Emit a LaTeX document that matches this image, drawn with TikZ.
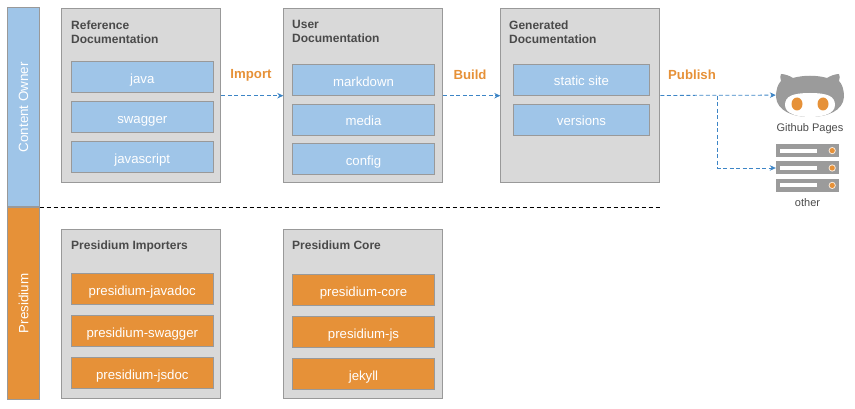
\documentclass[tikz,border=0pt]{standalone}
\usepackage{fontspec}
\setmainfont{Liberation Sans}
\usetikzlibrary{arrows.meta, positioning}
\definecolor{paleblue}{HTML}{9FC5E8}
\definecolor{deeporange}{HTML}{E69138}
\definecolor{panelgray}{HTML}{D9D9D9}
\definecolor{edgegray}{HTML}{999999}
\definecolor{titlegray}{HTML}{4A4A4A}
\definecolor{linkblue}{HTML}{3D85C6}
\definecolor{icongray}{HTML}{9B9B9B}

\begin{document}
\begin{tikzpicture}[
	x=1pt, y=-1pt,
	% panels and the boxes inside them
	band/.style={
		rectangle,
		draw=edgegray,
		line width=1pt,
		text=white,
		minimum width=31.4pt,
		font=\fontsize{13.4}{15}\selectfont
	},
	panel/.style={
		rectangle,
		draw=edgegray,
		fill=panelgray,
		line width=1pt,
		minimum width=159pt
	},
	paneltitle/.style={
		text=titlegray,
		align=left,
		inner sep=0pt,
		font=\bfseries\fontsize{12}{14}\selectfont
	},
	blueitem/.style={
		rectangle,
		draw=edgegray,
		fill=paleblue,
		line width=1pt,
		text=white,
		minimum width=142pt,
		minimum height=31pt,
		inner sep=0pt,
		text height=15pt,
		text depth=3pt,
		font=\fontsize{13.2}{15}\selectfont
	},
	orangeitem/.style={
		blueitem,
		fill=deeporange
	},
	steplabel/.style={
		text=deeporange,
		inner sep=0pt,
		font=\bfseries\fontsize{13.2}{15}\selectfont
	},
	iconlabel/.style={
		text=titlegray,
		inner sep=0pt,
		font=\fontsize{11}{13}\selectfont
	},
	% dashed connectors
	link/.style={
		-{Stealth[length=6pt,width=5.5pt]},
		dash pattern=on 4pt off 2.5pt,
		draw=linkblue,
		line width=0.8pt
	},
	rackbar/.style={
		rectangle,
		fill=icongray,
		minimum width=63pt,
		minimum height=13pt,
		inner sep=0pt
	}
	]

	\useasboundingbox (0,0) rectangle (855,409);

	% side bands
	\node[band, fill=paleblue, minimum height=198.7pt] (owner) at (23.5,107.15) {\rotatebox{90}{Content Owner}};
	\node[band, fill=deeporange, minimum height=191.7pt, below=0pt of owner] (presidium) {\rotatebox{90}{Presidium}};

	% top row
	\node[panel, minimum height=174.3pt] (reference) at (141.3,95.7) {};
	\node[panel, minimum height=174.3pt, right=62pt of reference] (user) {};
	\node[panel, minimum height=174.3pt, right=57pt of user] (generated) {};

	\node[paneltitle, anchor=north west] (reftitle) at (71,20.5) {Reference\\Documentation};
	\node[paneltitle, anchor=north west] (usertitle) at (292,20.5) {User\\Documentation};
	\node[paneltitle, anchor=north west] (gentitle) at (509,20.5) {Generated\\Documentation};

	\node[blueitem] (java) at (142.3,77.3) {java};
	\node[blueitem, below=8pt of java] (swagger) {swagger};
	\node[blueitem, below=8pt of swagger] (javascript) {javascript};

	\node[blueitem] (markdown) at (363.5,80.3) {markdown};
	\node[blueitem, below=7.6pt of markdown] (media) {media};
	\node[blueitem, below=7.6pt of media] (config) {config};

	\node[blueitem, minimum width=136pt] (site) at (581.5,80) {static site};
	\node[blueitem, minimum width=136pt, below=7.6pt of site] (versions) {versions};

	% bottom row
	\node[panel, minimum height=169pt] (importers) at (141.3,314.3) {};
	\node[panel, minimum height=169pt, right=62pt of importers] (core) {};

	\node[paneltitle, anchor=north west] (imptitle) at (71,241) {Presidium Importers};
	\node[paneltitle, anchor=north west] (coretitle) at (292,241) {Presidium Core};

	\node[orangeitem] (javadoc) at (142.3,289.3) {presidium-javadoc};
	\node[orangeitem, below=10pt of javadoc] (pswagger) {presidium-swagger};
	\node[orangeitem, below=10pt of pswagger] (jsdoc) {presidium-jsdoc};

	\node[orangeitem] (pcore) at (363.5,290) {presidium-core};
	\node[orangeitem, below=10pt of pcore] (pjs) {presidium-js};
	\node[orangeitem, below=10pt of pjs] (jekyll) {jekyll};

	% github icon
	\node[minimum width=68pt, minimum height=44pt, inner sep=0pt] (cat) at (810,95) {};
	\fill[icongray] (776,97) .. controls (776,89) and (778,84) .. (781,81)
		.. controls (780,78) and (780,76) .. (781,74)
		.. controls (785,74) and (790,76) .. (793,78)
		.. controls (803,75) and (817,75) .. (827,78)
		.. controls (830,76) and (835,74) .. (839,74)
		.. controls (840,76) and (840,78) .. (839,81)
		.. controls (842,84) and (844,89) .. (844,97)
		.. controls (843,111) and (827,117) .. (810,117)
		.. controls (793,117) and (777,111) .. (776,97) -- cycle;
	\fill[white] (785,105) .. controls (785,96) and (793,93) .. (810,93)
		.. controls (827,93) and (835,96) .. (835,105)
		.. controls (835,114) and (822,117) .. (810,117)
		.. controls (798,117) and (785,114) .. (785,105) -- cycle;
	\fill[deeporange] (797,104) ellipse [x radius=5.5pt, y radius=6.5pt];
	\fill[deeporange] (823,104) ellipse [x radius=5.5pt, y radius=6.5pt];
	\node[iconlabel] (ghlabel) at (810,129) {Github Pages};

	% server icon
	\node[rackbar] (rackb) at (807.5,168) {};
	\node[rackbar, above=4pt of rackb] (racka) {};
	\node[rackbar, below=4pt of rackb] (rackc) {};
	\foreach \r in {racka, rackb, rackc} {
		\fill[white] ([xshift=4pt, yshift=2pt]\r.west) rectangle ([xshift=41pt, yshift=-2pt]\r.west);
		\fill[white!80!deeporange] ([xshift=-7pt]\r.east) circle (3.6pt);
		\fill[deeporange] ([xshift=-7pt]\r.east) circle (2.6pt);
	}
	\node[iconlabel, below=6.5pt of rackc] (otherlabel) {other};

	% separator
	\draw[dash pattern=on 4pt off 3pt, line width=0.8pt] (owner.south east) -- (generated.east |- owner.south);

	% step labels
	\node[steplabel] (import) at (251,75) {Import};
	\node[steplabel] (build) at (470,75) {Build};
	\node[steplabel] (publish) at (692,75) {Publish};

	% connectors
	\coordinate[right=57pt of generated.east] (fork);
	\draw[link] (reference) -- (user);
	\draw[link] (user) -- (generated);
	\draw[link] (generated) -- (cat);
	\draw[link] (fork) |- (rackb);

\end{tikzpicture}
\end{document}
